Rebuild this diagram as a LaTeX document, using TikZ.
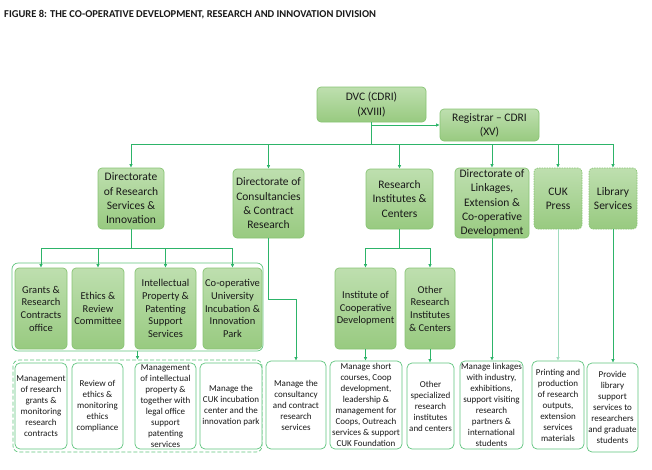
\documentclass[tikz,border=0pt]{standalone}
\usepackage{fontspec}
\setmainfont{Carlito}
\usetikzlibrary{arrows.meta}
\definecolor{lnk}{RGB}{45,180,105}
\definecolor{lnkpale}{RGB}{160,220,190}
\definecolor{gtop}{RGB}{190,223,175}
\definecolor{gbot}{RGB}{152,202,128}
\definecolor{gbord}{RGB}{135,196,115}
\definecolor{dbord}{RGB}{95,196,125}
\definecolor{txt}{RGB}{25,25,25}
\newcommand\mybox[7]{%
  \node[#1, minimum width={(#5-#3)*1pt}, minimum height={(#6-#4)*1pt}] (#2) at ({(#3+#5)/2},{(#4+#6)/2}) {#7};}
\tikzset{
  gbox/.style={draw=gbord, line width=0.7pt, rounded corners=4pt, top color=gtop, bottom color=gbot,
    align=center, inner sep=1pt, text=txt, font=\fontsize{11.5}{14.3}\selectfont},
  gdash/.style={gbox, dash pattern=on 1.5pt off 1pt},
  sbox/.style={gbox, font=\fontsize{10.5}{12.7}\selectfont},
  dbox/.style={draw=dbord, line width=0.7pt, rounded corners=5pt, fill=white,
    align=center, inner sep=1pt, text=txt, font=\fontsize{9}{11}\selectfont},
  ln/.style={draw=lnk, line width=0.8pt},
  arr/.style={ln, -{Latex[length=3.5pt,width=3.5pt]}},
  arrpale/.style={arr, draw=lnkpale},
}
\begin{document}
\begin{tikzpicture}[x=1pt,y=-1pt]
\useasboundingbox (0,0) rectangle (652,469);
\node[anchor=base west, inner sep=0pt, font=\bfseries\fontsize{10.5}{12}\selectfont, text=txt] (title) at (4,17)
  {FIGURE 8: THE CO-OPERATIVE DEVELOPMENT, RESEARCH AND INNOVATION DIVISION};

% containers
\node[draw=dbord, line width=0.7pt, rounded corners=6pt, minimum width=251pt, minimum height=88pt] (cont1) at (137.5,307) {};
\node[draw=dbord, line width=0.7pt, rounded corners=6pt, dash pattern=on 4pt off 2pt, minimum width=249pt, minimum height=92pt] (cont2) at (137.5,406) {};

% top
\mybox{gbox}{dvc}{317}{87}{426}{122}{DVC (CDRI)\\(XVIII)}
\mybox{gbox}{reg}{440}{109}{539}{141}{Registrar – CDRI\\(XV)}

% level 2
\mybox{gbox}{drsi}{98}{168}{164}{229}{Directorate\\of Research\\Services \&\\Innovation}
\mybox{gbox}{cons}{233}{169}{304}{238}{Directorate of\\Consultancies\\\& Contract\\Research}
\mybox{gbox}{ric}{366}{169}{433}{229}{Research\\Institutes \&\\Centers}
\mybox{gbox}{link}{455}{168}{529}{238}{Directorate of\\Linkages,\\Extension \&\\Co-operative\\Development}
\mybox{gdash}{cuk}{534}{168}{582}{229}{CUK\\Press}
\mybox{gdash}{lib}{589}{168}{637}{229}{Library\\Services}

% level 3
\mybox{sbox}{grants}{15}{268}{67}{349}{Grants \&\\Research\\Contracts\\office}
\mybox{sbox}{ethics}{72}{268}{124}{349}{Ethics \&\\Review\\Committee}
\mybox{sbox}{ip}{135}{268}{196}{349}{Intellectual\\Property \&\\Patenting\\Support\\Services}
\mybox{sbox}{coop}{203}{268}{262}{349}{Co-operative\\University\\Incubation \&\\Innovation\\Park}
\mybox{sbox}{icd}{335}{268}{396}{349}{Institute of\\Cooperative\\Development}
\mybox{sbox}{other}{405}{268}{455}{349}{Other\\Research\\Institutes\\\& Centers}

% descriptions
\mybox{dbox}{d1}{15}{363}{67}{449}{Management\\of research\\grants \&\\monitoring\\research\\contracts}
\mybox{dbox}{d2}{72}{363}{123}{449}{Review of\\ethics \&\\monitoring\\ethics\\compliance}
\mybox{dbox}{d3}{135}{363}{196}{449}{Management\\of intellectual\\property \&\\together with\\legal office\\support\\patenting\\services}
\mybox{dbox}{d4}{200}{363}{262}{449}{Manage the\\CUK incubation\\center and the\\innovation park}
\mybox{dbox}{d5}{266}{361}{326}{449}{Manage the\\consultancy\\and contract\\research\\services}
\mybox{dbox}{d6}{330}{361}{402}{449}{Manage short\\courses, Coop\\development,\\leadership \&\\management for\\Coops, Outreach\\services \& support\\CUK Foundation}
\mybox{dbox}{d7}{407}{363}{454}{449}{Other\\specialized\\research\\institutes\\and centers}
\mybox{dbox}{d8}{460}{361}{523}{449}{Manage linkages\\with industry,\\exhibitions,\\support visiting\\research\\partners \&\\international\\students}
\mybox{dbox}{d9}{532}{361}{584}{449}{Printing and\\production\\of research\\outputs,\\extension\\services\\materials}
\mybox{dbox}{d10}{587}{363}{638}{452}{Provide\\library\\support\\services to\\researchers\\and graduate\\students}

% connectors top
\coordinate (b0) at (371.5,144);
\draw[ln] (dvc.south) -- (b0);
\draw[arr] (dvc.south |- reg.west) -- (reg.west);
\draw[ln] (drsi.north |- b0) -- (lib.north |- b0);
\foreach \n in {drsi,cons,ric,link,cuk,lib}{\draw[arr] (\n.north |- b0) -- (\n.north);}

% DRSI branch
\coordinate (b1) at (131,248);
\draw[ln] (drsi.south) -- (b1);
\draw[ln] (grants.north |- b1) -- (coop.north |- b1);
\foreach \n in {grants,ethics,ip,coop}{\draw[arr] (\n.north |- b1) -- (\n.north);}
\draw[arr] (cont1.south) -- (cont2.north);

% consultancy
\coordinate (c1) at (268.5,299);
\draw[arr] (cons.south) -- (c1) -| (d5.north);

% RIC branch
\coordinate (b2) at (399.5,248);
\draw[ln] (ric.south) -- (b2);
\draw[ln] (icd.north |- b2) -- (other.north |- b2);
\foreach \n in {icd,other}{\draw[arr] (\n.north |- b2) -- (\n.north);}
\draw[arr] (icd.south) -- (icd.south |- d6.north);
\draw[arr] (other.south) -- (other.south |- d7.north);

% others
\draw[arr] (link.south) -- (link.south |- d8.north);
\draw[arrpale] (cuk.south) -- (cuk.south |- d9.north);
\draw[arr] (lib.south) -- (lib.south |- d10.north);
\end{tikzpicture}
\end{document}
